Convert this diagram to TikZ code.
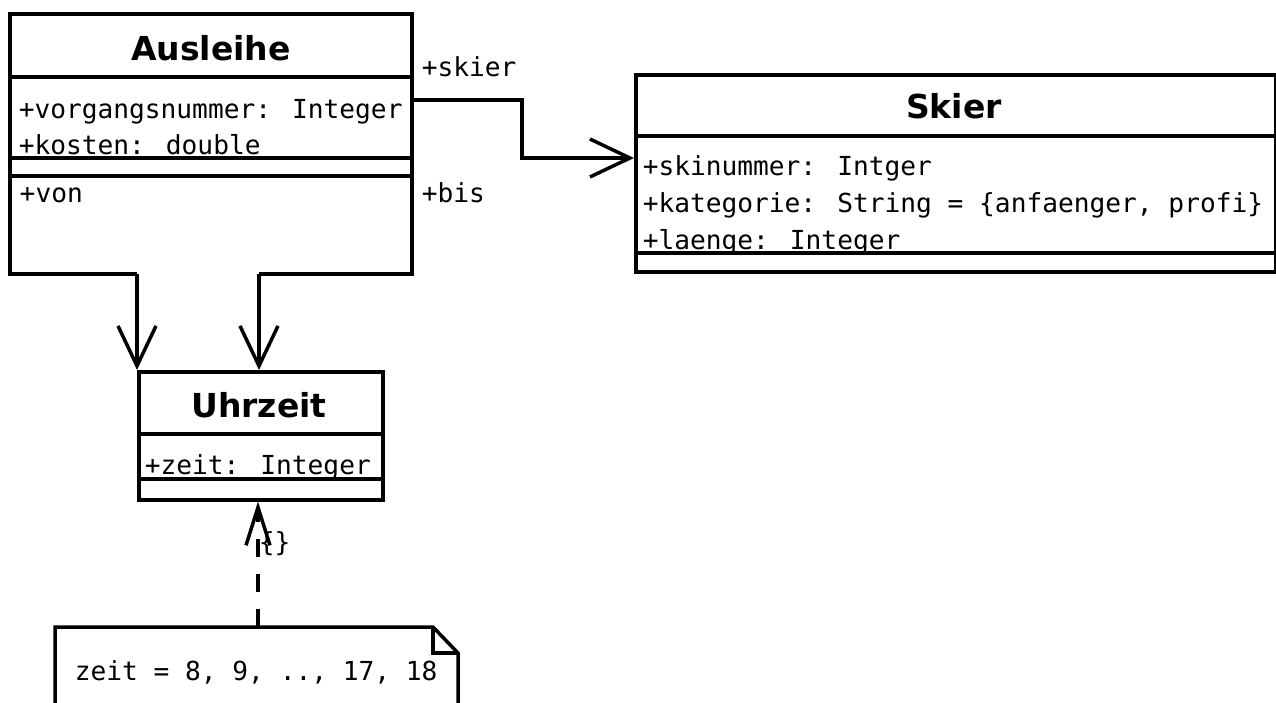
\documentclass[tikz,border=0pt]{standalone}
\usepackage{fontspec}
\setmainfont{DejaVu Sans}
\newfontfamily\umlmono{DejaVu Sans Mono}
\usetikzlibrary{arrows.meta,calc}

\begin{document}
\begin{tikzpicture}[x=1pt,y=-1pt,
  line width=3.5pt, line join=miter,
  umltitle/.style={font=\fontsize{33}{38}\selectfont\bfseries, anchor=base, inner sep=0pt},
  umlattr/.style={font=\umlmono\fontsize{26.2}{30}\selectfont, anchor=base west, inner sep=0pt},
  classbox/.style={draw, rectangle, inner sep=0pt, anchor=north west},
  assoc/.style={-{Straight Barb[length=40pt,width=38pt]}},
  depend/.style={dash pattern=on 18pt off 17pt, -{Straight Barb[length=38pt,width=24pt]}}]

\useasboundingbox (0,0) rectangle (1276,702);
\clip (0,0) rectangle (1276,702);

% ---- class Ausleihe ----
\node[inner sep=0pt, minimum width=402pt, minimum height=260pt, anchor=north west] (ausleihe) at (10,14) {};
\draw (137,274) -- (10,274) -- (10,14) -- (412,14) -- (412,274) -- (259,274);
\draw (10,77) -- (412,77);
\draw (10,158) -- (412,158);
\draw (10,176) -- (412,176);
\node[umltitle] (ausleiheTitle) at (211,60) {Ausleihe};
\node[umlattr] (aNr) at (17,118) {+vorgangsnummer: Integer};
\node[umlattr] (aKosten) at (17,154) {+kosten: double};
\node[umlattr] (aVon) at (18,202) {+von};

% ---- class Skier ----
\node[classbox, minimum width=640pt, minimum height=197pt] (skier) at (634,73) {};
\draw (634,136) -- (1274,136);
\draw (634,253) -- (1274,253);
\node[umltitle] (skierTitle) at (954,118) {Skier};
\node[umlattr] (sNr) at (641,175) {+skinummer: Intger};
\node[umlattr] (sKat) at (641,212) {+kategorie: String = \{anfaenger, profi\}};
\node[umlattr] (sLaenge) at (641,249) {+laenge: Integer};

% ---- class Uhrzeit ----
\node[classbox, minimum width=244pt, minimum height=128pt] (uhrzeit) at (137,370) {};
\draw (137,434) -- (381,434);
\draw (137,479) -- (381,479);
\node[umltitle] (uhrzeitTitle) at (259,417) {Uhrzeit};
\node[umlattr] (uZeit) at (143,474) {+zeit: Integer};

% ---- note ----
\draw (55,720) -- (55,627) -- (433,627) -- (458,653) -- (458,720);
\draw (433,627) -- (433,653) -- (458,653);
\node[umlattr] (note) at (73,680) {zeit = 8, 9, .., 17, 18};

% ---- role labels ----
\node[umlattr] (lSkier) at (420,76) {+skier};
\node[umlattr] (lBis) at (420,202) {+bis};
\node[umlattr] (lDep) at (257,551) {\{\}};

% ---- associations ----
\coordinate (vonStart) at (137,274);
\coordinate (bisStart) at (259,274);
\coordinate (skierStart) at (412,100);
\draw[assoc] (vonStart) -- (vonStart |- uhrzeit.north);
\draw[assoc] (bisStart) -- (bisStart |- uhrzeit.north);
\draw[assoc] (skierStart) -| (522,158) -- (skier.west |- 0,158);

% ---- note dependency ----
\coordinate (noteTop) at (258,627);
\draw[depend] (noteTop) -- (noteTop |- uhrzeit.south);
\end{tikzpicture}
\end{document}
